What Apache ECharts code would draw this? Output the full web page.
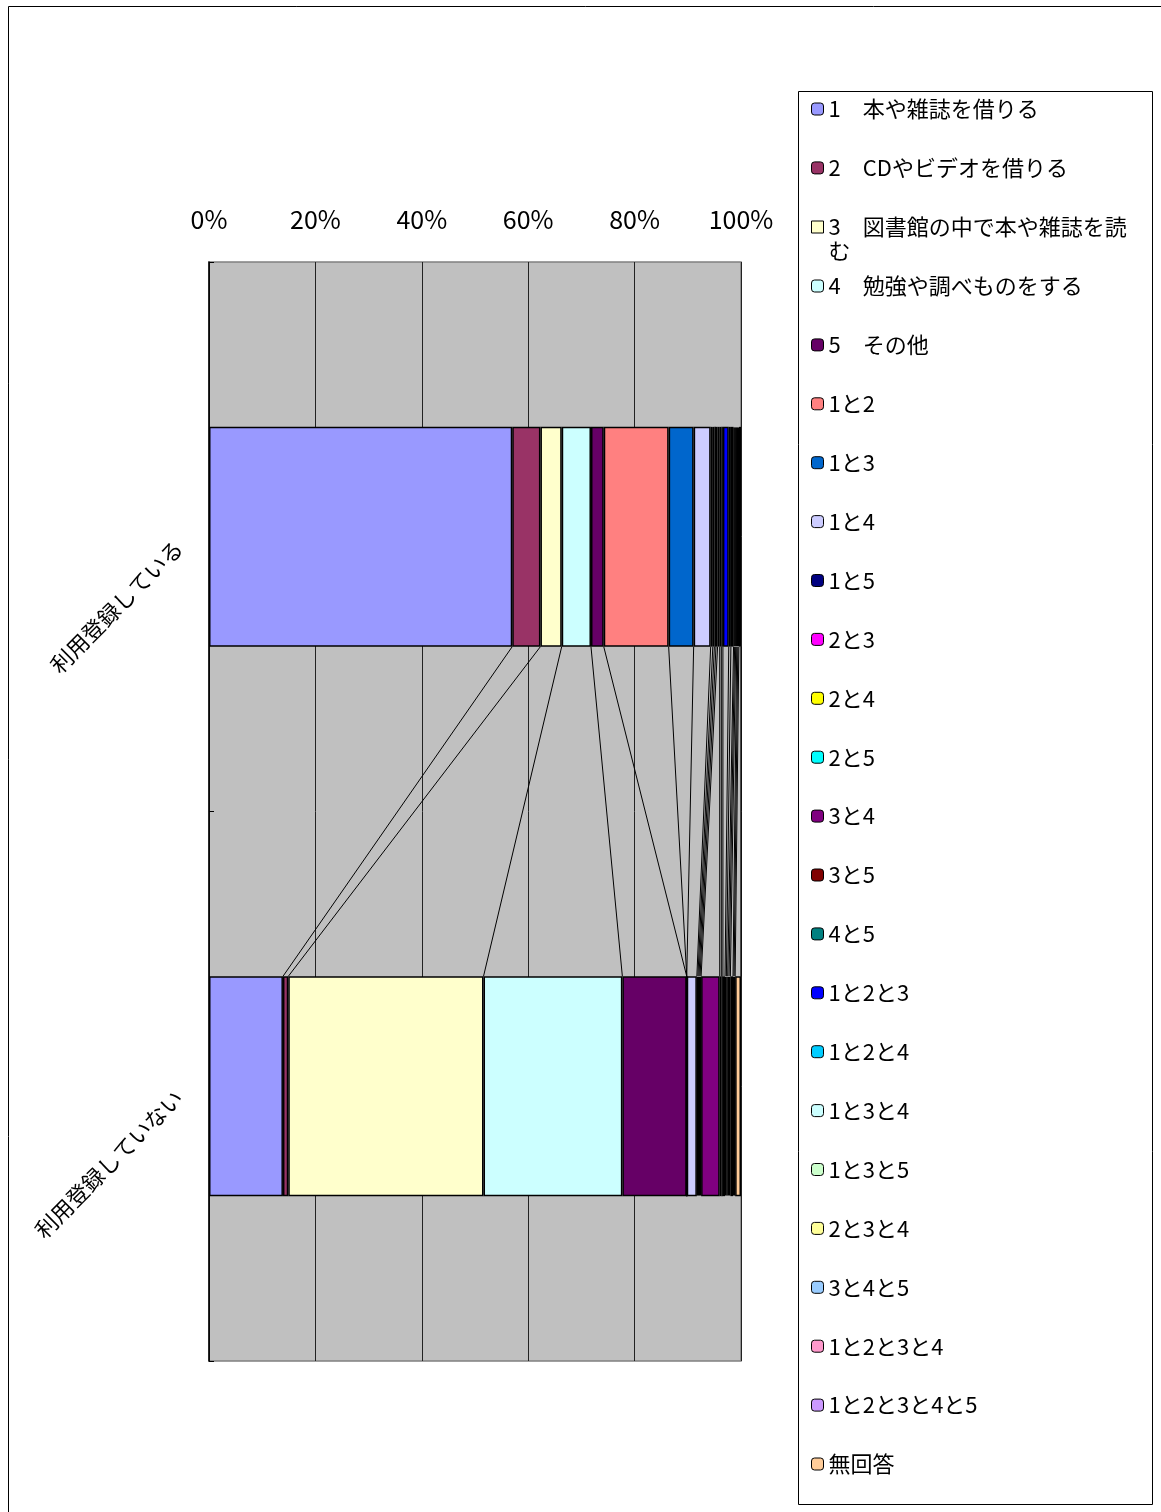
<!DOCTYPE html>
<html>
<head>
<meta charset="utf-8">
<script src="https://cdn.jsdelivr.net/npm/echarts@6/dist/echarts.min.js"></script>
<style>
html,body{margin:0;padding:0;background:#fff;}
#chart{width:1161px;height:1512px;}
</style>
</head>
<body>
<div id="chart"></div>
<script>
// Categories (top to bottom)
const categories = ['利用登録している', '利用登録していない'];

// Series names (legend order)
const seriesNames = [
  '1　本や雑誌を借りる', '2　CDやビデオを借りる', '3　図書館の中で本や雑誌を読む',
  '4　勉強や調べものをする', '5　その他', '1と2', '1と3', '1と4', '1と5',
  '2と3', '2と4', '2と5', '3と4', '3と5', '4と5', '1と2と3', '1と2と4',
  '1と3と4', '1と3と5', '2と3と4', '3と4と5', '1と2と3と4', '1と2と3と4と5', '無回答'
];

// Percent shares for "利用登録している"
const registeredValues = [
  57.0, 5.3, 4.0, 5.5, 2.4, 12.2, 4.7, 3.2, 0.4,
  0.3, 0.3, 0.3, 0.4, 0.3, 0.3, 1.1, 0.4,
  0.5, 0.2, 0.2, 0.2, 0.2, 0.2, 0.4
];

// Percent shares for "利用登録していない"
const notRegisteredValues = [
  13.9, 1.0, 36.7, 26.1, 12.1, 0.0, 0.0, 1.9, 0.2,
  0.2, 0.2, 0.2, 3.5, 0.3, 0.3, 0.4, 0.25,
  0.25, 0.25, 0.25, 0.5, 0.2, 0.2, 1.1
];

// Series colours
const seriesColors = [
  '#9999FF', '#993366', '#FFFFCC', '#CCFFFF', '#660066', '#FF8080', '#0066CC', '#CCCCFF', '#000080',
  '#FF00FF', '#FFFF00', '#00FFFF', '#800080', '#800000', '#008080', '#0000FF', '#00CCFF',
  '#CCFFFF', '#CCFFCC', '#FFFF99', '#99CCFF', '#FF99CC', '#CC99FF', '#FFCC99'
];

// X axis tick labels
const xTicks = [0, 20, 40, 60, 80, 100];

const FONT = '"Noto Sans CJK JP", "Noto Sans", sans-serif';
const BAR_FRACTION = 0.4;
const WRAP_NAME = '3　図書館の中で本や雑誌を読む';

// cumulative ends for series lines
const cumTop = [], cumBot = [];
let a = 0, b = 0;
for (let i = 0; i < seriesNames.length; i++) {
  a += registeredValues[i]; b += notRegisteredValues[i];
  cumTop.push(a); cumBot.push(b);
}
const seriesLineData = cumTop.map((v, i) => [v, cumBot[i]]);

const chart = echarts.init(document.getElementById('chart'), null, {renderer: 'canvas'});

const barSeries = seriesNames.map((name, i) => ({
  name: name,
  type: 'bar',
  stack: 'total',
  barWidth: (BAR_FRACTION * 100) + '%',
  data: [registeredValues[i], notRegisteredValues[i]],
  itemStyle: {color: seriesColors[i], borderColor: '#000', borderWidth: 1.5},
  emphasis: {disabled: true},
  z: 3
}));

const linesSeries = {
  type: 'custom',
  name: 'serieslines',
  data: seriesLineData,
  z: 2,
  silent: true,
  encode: {x: [0, 1]},
  renderItem: function (params, api) {
    const p1 = api.coord([api.value(0), 0]);
    const p2 = api.coord([api.value(1), 1]);
    const band = api.size([0, 1])[1];
    const half = band * BAR_FRACTION / 2;
    return {
      type: 'line',
      shape: {x1: p1[0], y1: p1[1] + half, x2: p2[0], y2: p2[1] - half},
      style: {stroke: '#000', lineWidth: 1}
    };
  }
};

const legendCommon = {
  orient: 'vertical',
  left: 811,
  itemWidth: 12, itemHeight: 12,
  itemGap: 34.9,
  padding: 0,
  selectedMode: false,
  itemStyle: {borderColor: '#000', borderWidth: 1},
  formatter: function (name) {
    if (name === WRAP_NAME) return '3　図書館の中で本や雑誌を読\nむ';
    return name;
  },
  textStyle: {fontSize: 22, lineHeight: 24, color: '#000', fontFamily: FONT}
};

const legendA = Object.assign({}, legendCommon, {
  top: 97,
  data: seriesNames.slice(0, 2)
});
// wrapped item: tall icon box whose visible square sits at the top, aligned with line 1
const legendC = Object.assign({}, legendCommon, {
  top: 215,
  itemHeight: 36,
  data: [{name: WRAP_NAME, icon: 'path://M0,0L12,0L12,12L0,12ZM0,36'}]
});
const legendB = Object.assign({}, legendCommon, {
  top: 274,
  data: seriesNames.slice(3)
});

chart.setOption({
  animation: false,
  backgroundColor: '#fff',
  textStyle: {fontFamily: FONT},
  graphic: [{
    type: 'rect',
    shape: {x: 8.5, y: 6.5, width: 1160, height: 1510},
    style: {fill: 'none', stroke: '#000', lineWidth: 1},
    silent: true, z: -10
  }, {
    type: 'rect',
    shape: {x: 798.5, y: 91.5, width: 354, height: 1413},
    style: {fill: '#fff', stroke: '#000', lineWidth: 1},
    silent: true, z: -9
  }],
  grid: {
    left: 209, right: 420, top: 262, bottom: 151,
    show: true, backgroundColor: '#C0C0C0', borderColor: '#808080', borderWidth: 1.5
  },
  xAxis: {
    type: 'value',
    position: 'top',
    min: 0, max: 100, interval: 20,
    axisLine: {show: false},
    axisTick: {show: false},
    axisLabel: {
      formatter: function (v) { return xTicks.indexOf(v) >= 0 ? v + '%' : ''; },
      fontSize: 25, color: '#000', margin: 30, fontFamily: FONT
    },
    splitLine: {show: true, lineStyle: {color: '#222', width: 1}}
  },
  yAxis: {
    type: 'category',
    data: categories,
    inverse: true,
    axisLine: {show: true, lineStyle: {color: '#000', width: 1.5}},
    axisTick: {show: true, inside: true, length: 5, lineStyle: {color: '#000'}},
    axisLabel: {rotate: 45, fontSize: 22, color: '#000', margin: 38, verticalAlign: 'top', fontFamily: FONT},
    splitLine: {show: false}
  },
  legend: [legendA, legendC, legendB],
  series: barSeries.concat([linesSeries])
});
</script>
</body>
</html>
